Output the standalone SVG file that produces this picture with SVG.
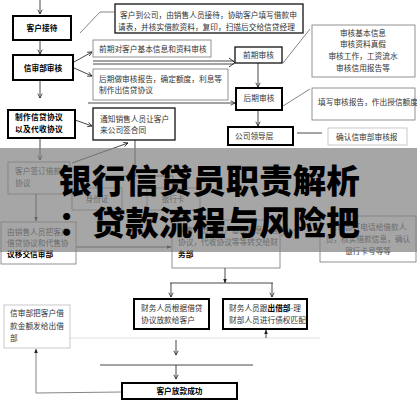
<svg xmlns="http://www.w3.org/2000/svg" width="417" height="400" viewBox="0 0 417 400">
<style>
.t{font-family:"Noto Sans CJK SC","Noto Sans",sans-serif;font-size:7.7px;fill:#333}
.b{font-weight:bold;fill:#000}
.c{text-anchor:middle}
.thick{fill:#fff;stroke:#000;stroke-width:2}
.mid{fill:#fff;stroke:#111;stroke-width:1.3}
.thin{fill:#fff;stroke:#777;stroke-width:0.8}
.faint{fill:#fff;stroke:#bbb;stroke-width:0.8}
.ln{stroke:#333;stroke-width:0.9;fill:none}
.lg{stroke:#777;stroke-width:0.9;fill:none}
.title{font-family:"Noto Sans CJK SC","Noto Sans",sans-serif;font-size:33.5px;font-weight:900;fill:#000;text-anchor:middle}
</style>
<defs>
<marker id="a" viewBox="0 0 10 10" refX="9" refY="5" markerWidth="6" markerHeight="6" orient="auto"><path d="M1,1 L9,5 L1,9" fill="none" stroke="#222" stroke-width="1.5"/></marker>
<marker id="f" viewBox="0 0 10 10" refX="9" refY="5" markerWidth="5" markerHeight="5" orient="auto"><path d="M0,1 L10,5 L0,9 z" fill="#222"/></marker>
</defs>
<rect width="417" height="400" fill="#fff"/>

<g id="connectors">
<line class="ln" x1="40" y1="0" x2="40" y2="14" marker-end="url(#a)"/>
<line class="ln" x1="40" y1="40" x2="40" y2="54" marker-end="url(#a)"/>
<line class="ln" x1="40" y1="80" x2="40" y2="98" marker-end="url(#a)"/>
<polyline class="lg" points="80,33 100,12 114,12"/>
<line class="ln" x1="74" y1="62" x2="92" y2="52" marker-end="url(#a)"/>
<line class="ln" x1="74" y1="68" x2="92" y2="76" marker-end="url(#a)"/>
<line class="ln" x1="93" y1="61" x2="234" y2="61"/>
<line class="ln" x1="93" y1="64" x2="234" y2="64"/>
<path d="M229,58 L235,62.5 L229,67" fill="none" stroke="#222" stroke-width="0.9"/>
<line class="ln" x1="88" y1="103" x2="235" y2="103" marker-end="url(#a)"/>
<line class="ln" x1="258" y1="63" x2="258" y2="87" marker-end="url(#a)"/>
<line class="lg" x1="283" y1="63" x2="310" y2="29"/>
<line class="lg" x1="283" y1="106" x2="310" y2="89"/>
<line class="ln" x1="258" y1="110" x2="258" y2="126" marker-end="url(#a)"/>
<line class="ln" x1="297" y1="133" x2="322" y2="133"/>
<line class="ln" x1="75" y1="120" x2="92" y2="126" marker-end="url(#a)"/>
<line class="ln" x1="40" y1="138" x2="40" y2="160" marker-end="url(#a)"/>
<line class="ln" x1="72" y1="163" x2="128" y2="143" marker-end="url(#a)"/>
<line class="ln" x1="135" y1="140" x2="135" y2="176"/>
<line class="ln" x1="97" y1="176" x2="173" y2="176"/>
<line class="ln" x1="97" y1="176" x2="97" y2="188"/>
<line class="ln" x1="173" y1="176" x2="173" y2="188"/>
<line class="ln" x1="36" y1="194" x2="36" y2="221" marker-end="url(#f)"/>
<line class="ln" x1="76" y1="247" x2="171" y2="247" marker-end="url(#f)"/>
<line class="lg" x1="281" y1="236" x2="320" y2="218"/>
<line class="ln" x1="225" y1="268" x2="225" y2="283" marker-end="url(#f)"/>
<line class="ln" x1="170" y1="283" x2="273" y2="283"/>
<line class="ln" x1="171" y1="283" x2="171" y2="297" marker-end="url(#a)"/>
<line class="ln" x1="272" y1="283" x2="272" y2="297" marker-end="url(#a)"/>
<line stroke="#ddd" stroke-width="0.9" x1="70" y1="338" x2="320" y2="338"/>
<line class="ln" x1="266" y1="338" x2="266" y2="330" marker-end="url(#f)"/>
<line class="ln" x1="176" y1="340" x2="176" y2="355" marker-end="url(#a)"/>
<line class="ln" x1="100" y1="365" x2="253" y2="365"/>
<line class="ln" x1="176" y1="365" x2="176" y2="379" marker-end="url(#a)"/>
<polyline class="lg" points="122,392 36,393 36,349" marker-end="url(#f)"/>
</g>

<g id="n1"><rect class="thick" x="13" y="16" width="58" height="24"/><text class="t b c" x="42" y="31">客户接待</text></g>
<g id="n2"><rect class="mid" x="115" y="4" width="188" height="29" stroke-width="1"/>
<text class="t" x="120" y="18">客户到公司，由销售人员接待，协助客户填写借款申</text>
<text class="t" x="118" y="30">请表，并核实借款资料，复印，扫描后交给信贷经理</text></g>
<g id="n3"><rect class="thick" x="13" y="55" width="60" height="25"/><text class="t b c" x="43" y="71">信审部审核</text></g>
<g id="n4"><rect class="thin" x="93" y="40" width="118" height="17"/><text class="t" x="99" y="51.5">前期对客户基本信息和资料审核</text></g>
<g id="n5"><rect class="thin" x="93" y="69" width="135" height="31"/>
<text class="t" x="99" y="82">后期做审核报告，确定额度，利息等</text>
<text class="t" x="99" y="93">制作出信贷协议</text></g>
<g id="n6"><rect class="mid" x="235" y="47" width="47" height="16"/><text class="t c" x="258.5" y="58">前期审核</text></g>
<g id="n7"><rect class="thick" x="236" y="88" width="46" height="22"/><text class="t c" x="259" y="101">后期审核</text></g>
<g id="n8"><rect class="thin" x="312" y="25" width="103" height="52"/>
<text class="t c" x="363" y="36">审核基本信息</text>
<text class="t c" x="363" y="47">审核资料真假</text>
<text class="t c" x="363" y="59">审核工作，工资流水</text>
<text class="t c" x="363" y="71">审核信用报告等</text></g>
<g id="n9"><rect class="thin" x="312" y="88" width="103" height="32"/><text class="t" x="318" y="105">填写审核报告，作出授信额度</text></g>
<g id="n10"><rect class="thick" x="228" y="127" width="65" height="18"/><text class="t" x="235" y="139">公司领导层</text></g>
<g id="n11"><rect class="faint" x="328" y="128" width="79" height="17"/><text class="t" x="336" y="140">确认信审部审核报</text></g>
<g id="n12"><rect class="thick" x="8" y="110" width="67" height="28"/>
<text class="t b" x="15" y="120" letter-spacing="0.3">制作信贷协议</text>
<text class="t b" x="15" y="132" letter-spacing="0.3">以及代收协议</text></g>
<g id="n13"><rect class="mid" x="93" y="108" width="82" height="32" stroke-width="0.9"/>
<text class="t" x="100" y="122">通知销售人员让客户</text>
<text class="t" x="100" y="133">来公司签合同</text></g>
<g id="n14"><rect class="thin" x="8" y="162" width="62" height="32"/>
<text class="t" x="15" y="174">客户签订借款</text>
<text class="t" x="15" y="186">协议</text></g>
<g id="n14a"><rect class="thin" x="72" y="188" width="50" height="22"/><text class="t c" x="97" y="202">身份证</text></g>
<g id="n14b"><rect class="thin" x="147" y="188" width="53" height="22"/><text class="t c" x="173" y="202">银行卡</text></g>
<g id="n15"><rect class="thin" x="1" y="222" width="75" height="42"/>
<text class="t" x="7" y="235">由销售人员把客户</text>
<text class="t" x="7" y="246">借贷协议和代售协</text>
<text class="t b" x="7" y="257">议移交信审部</text></g>
<g id="n16"><rect class="thin" x="172" y="220" width="108" height="48"/>
<text class="t" x="178" y="233">销售人员把客户基本信息，借贷</text>
<text class="t" x="178" y="245">协议，代收协议等等转交给财</text>
<text class="t b" x="178" y="257">务部</text></g>
<g id="n17"><rect class="thin" x="320" y="216" width="96" height="46"/>
<text class="t c" x="368" y="230">信审部打电话给借款人</text>
<text class="t c" x="368" y="242">员，核实借款信息，确认</text>
<text class="t c" x="368" y="254">银行卡号等等</text></g>

<rect x="0" y="148" width="417" height="104" fill="#808080" opacity="0.7"/>
<g id="title">
<text class="title" x="209" y="193">银行信贷员职责解析</text>
<text class="title" x="209" y="235">：贷款流程与风险把</text>
</g>

<g id="n18"><rect class="thick" x="134" y="299" width="75" height="30"/>
<text class="t" x="141" y="311">财务人员根据借贷</text>
<text class="t" x="141" y="323">协议放款给客户</text></g>
<g id="n19"><rect class="thick" x="223" y="299" width="84" height="30"/>
<text class="t" x="229" y="311">财务人员跟<tspan class="b">出借部</tspan>-理</text>
<text class="t" x="229" y="323">财部人员进行债权匹配</text></g>
<g id="n20"><rect class="faint" x="4" y="305" width="66" height="43"/>
<text class="t" x="10" y="316">信审部把客户借</text>
<text class="t" x="10" y="329">款金额发给出借</text>
<text class="t" x="10" y="341">部</text></g>
<g id="n21"><rect class="thick" x="122" y="383" width="115" height="16"/><text class="t b c" x="179.5" y="394">客户放款成功</text></g>
</svg>
